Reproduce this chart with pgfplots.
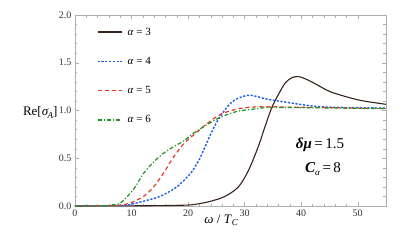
\documentclass[border=0pt]{standalone}
\usepackage{fontspec}
\setmainfont{Liberation Serif}
\usepackage{pgfplots}
\pgfplotsset{compat=1.18}
\definecolor{cblk}{RGB}{55,35,25}
\definecolor{cblu}{RGB}{30,95,235}
\definecolor{cred}{RGB}{235,55,40}
\definecolor{cgrn}{RGB}{30,150,30}
\definecolor{frm}{RGB}{175,175,175}
\begin{document}
\begin{tikzpicture}
\begin{axis}[
  scale only axis, width=311pt, height=191pt,
  xmin=0, xmax=55, ymin=0, ymax=2,
  xtick={0,10,...,50}, ytick={0,0.5,...,2},
  minor x tick num=4, minor y tick num=4,
  tick align=inside,
  major tick length=4pt, minor tick length=2.5pt,
  axis line style={frm}, every tick/.style={frm},
  xticklabels={0,10,20,30,40,50},
  yticklabels={0.0,0.5,1.0,1.5,2.0},
  ticklabel style={font=\fontsize{10}{11}\selectfont, text=black!80},
  /pgf/number format/assume math mode=true,
  xlabel={\fontsize{13}{14}\selectfont \textit{ω} / \textit{T}\raisebox{-0.35ex}{\fontsize{9}{9}\selectfont\textit{C}}},
  xlabel style={at={(axis description cs:0.47,0)}, anchor=north, yshift=-5pt},
  ylabel={\fontsize{13}{14}\selectfont Re[\textit{σ}\raisebox{-0.4ex}{\fontsize{9}{9}\selectfont\kern-1pt\textit{A}}]},
  ylabel style={rotate=-90, at={(axis description cs:0,0.5)}, anchor=east, xshift=-14pt, yshift=-2pt},
  legend style={at={(axis description cs:0.06,0.955)}, anchor=north west, draw=none, fill=none,
    font=\fontsize{11}{12}\selectfont, row sep=16.5pt, nodes={inner xsep=5pt}},
  legend cell align=left,
  legend image code/.code={\draw[#1, line width=1.6pt] (0cm,0cm) -- (0.85cm,0cm);},
  clip=true,
]
\addplot[cblk, line width=1.1pt, smooth, tension=0.5] coordinates {
(0,0)(10,0.002)(15,0.004)(20,0.01)(22,0.025)(24,0.05)(26.5,0.10)(28.9,0.20)(30.7,0.375)(32.4,0.62)(33.6,0.83)(34.8,1.03)(36,1.17)(37.2,1.29)(38.4,1.345)(39.5,1.355)(40.4,1.34)(41.5,1.31)(42.8,1.27)(45,1.20)(48.2,1.14)(51,1.10)(55,1.065)};
\addlegendentry{\textit{α} = 3}
\addplot[draw=cblu, line width=1.4pt, dash pattern=on 2.2pt off 1.6pt, smooth, tension=0.5] coordinates {
(0,0)(8,0.005)(10,0.02)(12.1,0.05)(15,0.10)(18,0.20)(20.4,0.34)(21.3,0.42)(22.1,0.50)(23,0.62)(23.9,0.74)(24.8,0.85)(25.7,0.94)(27.4,1.07)(28.9,1.13)(31,1.16)(33.9,1.12)(37.5,1.085)(41.6,1.05)(45,1.035)(50,1.03)(55,1.025)};
\addlegendentry{\textit{α} = 4}
\addplot[draw=cred, line width=1.2pt, dash pattern=on 4pt off 3pt, smooth, tension=0.5] coordinates {
(0,0)(6,0.003)(8,0.01)(9.7,0.03)(12.1,0.10)(13.9,0.20)(15.6,0.34)(17.4,0.51)(19.2,0.65)(20.9,0.74)(22.1,0.80)(23.3,0.86)(25.7,0.96)(28.6,1.015)(31,1.035)(33.9,1.04)(38,1.035)(45,1.03)(55,1.02)};
\addlegendentry{\textit{α} = 5}
\addplot[draw=cgrn, line width=1.2pt, dash pattern=on 4pt off 2pt on 1.2pt off 2pt, smooth, tension=0.5] coordinates {
(0,0)(5,0.003)(6.5,0.012)(8,0.03)(10.3,0.17)(12.1,0.34)(13.9,0.46)(15.6,0.55)(17.4,0.62)(19.2,0.68)(20.9,0.76)(23.3,0.85)(25.7,0.93)(28.6,0.99)(31,1.01)(33.9,1.03)(40,1.03)(47,1.025)(55,1.02)};
\addlegendentry{\textit{α} = 6}
\end{axis}
\node[font=\fontsize{15}{16}\selectfont] at (245pt,61pt) {\textbf{\textit{δμ}}\,=\,1.5};
\node[font=\fontsize{15}{16}\selectfont] at (248pt,37pt) {\textbf{\textit{C}}\raisebox{-0.5ex}{\fontsize{9}{9}\selectfont\textit{α}}\,=\,8};
\useasboundingbox (-75pt,-44pt) rectangle (340pt,206pt);
\end{tikzpicture}
\end{document}
